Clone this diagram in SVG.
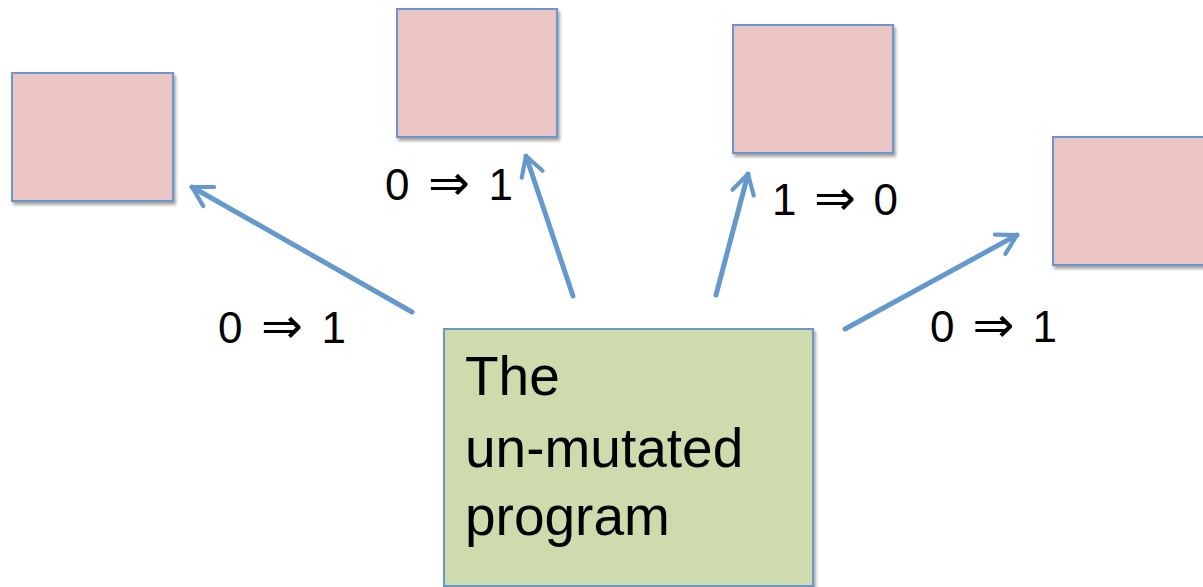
<svg xmlns="http://www.w3.org/2000/svg" width="1203" height="587" viewBox="0 0 1203 587">
  <style>
    .mut { fill: #EBC5C4; stroke: #6A97CB; stroke-width: 2; filter: url(#shadow); }
    .orig { fill: #CEDCAD; stroke: #6A97CB; stroke-width: 2; filter: url(#shadow); }
    .edge { fill: none; stroke: #6598CB; stroke-width: 5; stroke-linecap: round; marker-end: url(#chev); }
    .lbl { font-family: "Liberation Sans", "DejaVu Sans", sans-serif; font-size: 44px; fill: #000; }
    .imp { font-family: "DejaVu Sans", sans-serif; font-size: 50px; }
    .big { font-family: "Liberation Sans", "DejaVu Sans", sans-serif; font-size: 55px; fill: #000; }
  </style>
  <defs>
    <filter id="shadow" x="-10%" y="-10%" width="130%" height="130%">
      <feGaussianBlur in="SourceAlpha" stdDeviation="1.5"/>
      <feOffset dx="1.5" dy="2.5" result="b"/>
      <feComponentTransfer><feFuncA type="linear" slope="0.35"/></feComponentTransfer>
      <feMerge><feMergeNode/><feMergeNode in="SourceGraphic"/></feMerge>
    </filter>
    <marker id="chev" viewBox="0 0 10 10" refX="8" refY="5" markerWidth="5.5" markerHeight="5.5" orient="auto" markerUnits="strokeWidth">
      <path d="M1,1 L8,5 L1,9" fill="none" stroke="#6598CB" stroke-width="1.5" stroke-linecap="round" stroke-linejoin="round"/>
    </marker>
  </defs>
  <rect width="1203" height="587" fill="#FFFFFF"/>

  <!-- connectors -->
  <g id="connectors">
    <line class="edge" x1="412" y1="312" x2="192" y2="187"/>
    <line class="edge" x1="573" y1="296" x2="526" y2="156"/>
    <line class="edge" x1="716" y1="295" x2="748" y2="174"/>
    <line class="edge" x1="845" y1="329" x2="1017" y2="235"/>
  </g>

  <!-- mutated variants -->
  <g id="variant-1"><rect class="mut" x="12" y="73" width="161" height="128"/></g>
  <g id="variant-2"><rect class="mut" x="397" y="9" width="160" height="128"/></g>
  <g id="variant-3"><rect class="mut" x="733" y="25" width="160" height="128"/></g>
  <g id="variant-4"><rect class="mut" x="1053" y="137" width="160" height="128"/></g>

  <!-- original program -->
  <g id="original">
    <rect class="orig" x="444" y="329" width="369" height="257"/>
    <text class="big" x="465" y="395">The</text>
    <text class="big" x="465" y="467">un-mutated</text>
    <text class="big" x="465" y="535">program</text>
  </g>

  <!-- bit-flip labels -->
  <g id="labels">
    <text class="lbl" x="218" y="343" textLength="128" lengthAdjust="spacing">0 <tspan class="imp">⇒</tspan> 1</text>
    <text class="lbl" x="385" y="200" textLength="128" lengthAdjust="spacing">0 <tspan class="imp">⇒</tspan> 1</text>
    <text class="lbl" x="772" y="215" textLength="126" lengthAdjust="spacing">1 <tspan class="imp">⇒</tspan> 0</text>
    <text class="lbl" x="930" y="342" textLength="127" lengthAdjust="spacing">0 <tspan class="imp">⇒</tspan> 1</text>
  </g>
</svg>
